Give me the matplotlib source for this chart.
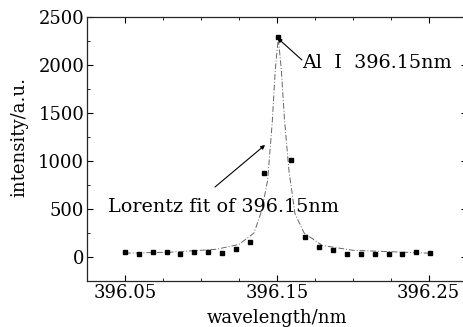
import numpy as np
import matplotlib.pyplot as plt
from matplotlib.ticker import MultipleLocator, FixedLocator

wavelength = 396.05 + 0.00914 * np.arange(23)
intensity = [55, 35, 55, 55, 33, 48, 55, 42, 80, 160, 875, 2290, 1011,
             212, 105, 70, 28, 28, 28, 35, 35, 55, 38]

# lorentz fit curve
fit_x = [396.050, 396.080, 396.110, 396.125, 396.135, 396.140, 396.144,
         396.147, 396.149, 396.151, 396.153, 396.155, 396.158, 396.162,
         396.168, 396.180, 396.200, 396.250]
fit_y = [40, 50, 80, 130, 250, 480, 800, 1400, 1950, 2280, 1950, 1450,
         900, 450, 250, 120, 70, 40]

xticks = [396.05, 396.15, 396.25]

plt.rcParams['font.family'] = ['DejaVu Serif']
plt.rcParams['font.size'] = 13

fig = plt.figure(figsize=(4.64, 3.27), dpi=100)
ax = fig.add_axes([0.1875, 0.1407, 0.818, 0.8073])

ax.plot(fit_x, fit_y, color="0.4", lw=0.7, ls=(0, (6, 2, 1, 2)))
ax.plot(wavelength, intensity, "s", color="black", ms=3)

ax.set_xlim(396.025, 396.275)
ax.set_ylim(-250, 2500)
ax.xaxis.set_major_locator(FixedLocator(xticks))
ax.xaxis.set_minor_locator(MultipleLocator(0.025))
ax.yaxis.set_major_locator(MultipleLocator(500))
ax.yaxis.set_minor_locator(MultipleLocator(250))
ax.xaxis.set_major_formatter(plt.FuncFormatter(lambda v, p: "%.2f" % v))
ax.tick_params(which="both", direction="in", top=True, right=True)
ax.tick_params(which="major", length=4, width=0.8, pad=2)
ax.tick_params(which="minor", length=2.5, width=0.6)
for s in ax.spines.values():
    s.set_linewidth(0.9)
    s.set_color("0.15")

ax.set_xlabel("wavelength/nm", labelpad=5)
ax.set_ylabel("intensity/a.u.", labelpad=7, y=0.545)

arrow = dict(arrowstyle="-|>", color="black", lw=0.8,
             mutation_scale=6, shrinkA=0, shrinkB=0)
ax.annotate("", xy=(396.1505, 2281), xytext=(396.1666, 2052),
            arrowprops=arrow)
ax.text(396.1666, 1969, "Al  I  396.15nm", ha="left", va="baseline",
        fontsize=13.8)
ax.annotate("", xy=(396.1423, 1167), xytext=(396.1093, 729),
            arrowprops=arrow)
ax.text(396.0388, 469, "Lorentz fit of 396.15nm", ha="left", va="baseline",
        fontsize=13.8)

plt.savefig("out.png")
